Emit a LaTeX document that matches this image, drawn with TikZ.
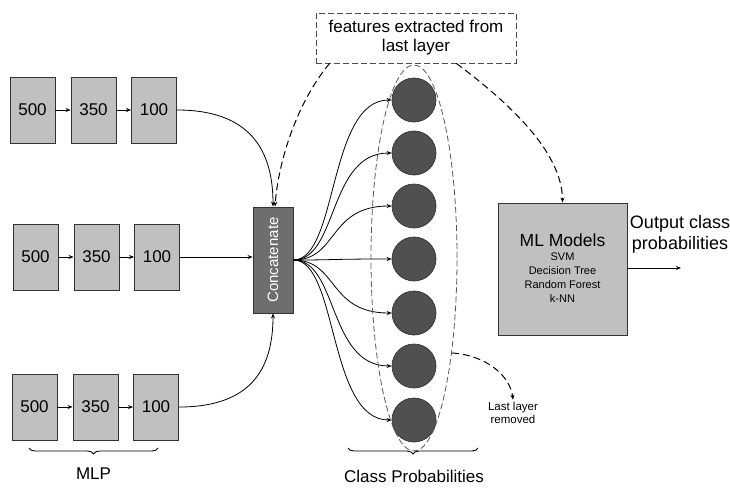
\documentclass[tikz,border=0pt]{standalone}
\usepackage{fontspec}
\setmainfont{Liberation Sans}
\usetikzlibrary{arrows.meta,decorations.pathreplacing,positioning,shapes.geometric}
\definecolor{boxgray}{HTML}{C0C0C0}
\definecolor{catgray}{HTML}{6E6E6E}
\definecolor{circgray}{HTML}{505050}
\begin{document}
\begin{tikzpicture}[x=1pt,y=-1pt,
  layer/.style={draw=black!80,line width=0.9pt,fill=boxgray,minimum width=45pt,minimum height=66pt,inner sep=0pt,font=\fontsize{17}{17}\selectfont},
  neuron/.style={circle,draw=black!80,line width=0.7pt,fill=circgray,minimum size=44pt,inner sep=0pt},
  conn/.style={line width=0.8pt,-{Stealth[length=5pt,width=4pt]}},
  dconn/.style={line width=1pt,dash pattern=on 7pt off 4pt,-{Stealth[length=5pt,width=4pt]}},
  brc/.style={decorate,decoration={brace,mirror,amplitude=6pt},line width=0.9pt}]
\useasboundingbox (0,0) rectangle (730,487);
% MLP rows
\foreach \r/\y/\dx in {1/110/0,2/257/3,3/407/2}{
  \node[layer] (a\r) at (32.5+\dx,\y) {500};
  \node[layer] (b\r) at (93.5+\dx,\y) {350};
  \node[layer] (c\r) at (154+\dx,\y) {100};
  \draw[conn] (a\r) -- (b\r);
  \draw[conn] (b\r) -- (c\r);
}
% concatenate
\node[draw=black!80,line width=0.9pt,fill=catgray,minimum width=40pt,minimum height=106pt,inner sep=0pt] (cat) at (273,260) {};
\node[rotate=90,text=white,font=\fontsize{15}{15}\selectfont] (cattext) at (cat.center) {Concatenate};
\draw[conn] (c1.east) .. controls (250,110) and (273,150) .. (cat.north);
\draw[conn] (c2.east) -- (cat.west |- c2.east);
\draw[conn] (c3.east) .. controls (250,407) and (273,370) .. (cat.south);
% neurons
\foreach \i/\y in {1/100,2/153,3/206,4/259,5/313,6/366,7/420}{
  \node[neuron] (n\i) at (414,\y) {};
  \draw[conn] (cat.east) .. controls (338,260) and (328,\y) .. (n\i.west);
}
% ellipse
\node[draw=black!65,dash pattern=on 6pt off 3pt,line width=0.8pt,ellipse,minimum width=86pt,minimum height=386pt,inner sep=0pt] (ell) at (414,258) {};
% features box
\node[draw=black!70,line width=0.9pt,dash pattern=on 6pt off 3pt,minimum width=200pt,minimum height=50pt,align=center,font=\fontsize{17}{19}\selectfont] (feat) at (416,38) {features extracted from\\last layer};
% ML box
\node[draw=black!80,line width=0.9pt,fill=boxgray,minimum width=129pt,minimum height=132pt,inner sep=0pt] (ml) at (562.5,269) {};
\node[align=center,font=\fontsize{11}{14}\selectfont] (mltext) at (562.5,268) {{\fontsize{17.5}{20}\selectfont ML Models}\\SVM\\Decision Tree\\Random Forest\\k-NN};
\coordinate (out) at (681,268);
\draw[conn] (ml.east |- out) -- (out);
\node[align=center,font=\fontsize{18}{21}\selectfont] (outtext) at (680,234) {Output class\\probabilities};
% dashed connectors
\draw[dconn] ([xshift=14pt]feat.south west) .. controls (295,105) and (278,165) .. ([xshift=2pt]cat.north);
\draw[dconn] ([xshift=-60pt]feat.south east) .. controls (505,100) and (562,150) .. (ml.north);
\coordinate (rm) at (452,353);
\node[align=center,font=\fontsize{11.5}{13}\selectfont] (rmtext) at (513,413) {Last layer\\removed};
\draw[dconn] (rm) .. controls (485,355) and (510,375) .. ([yshift=-1pt]rmtext.north);
% braces
\coordinate (m1) at (29,448); \coordinate (m2) at (158,448);
\draw[brc] (m1) -- (m2);
\node[font=\fontsize{17}{17}\selectfont] (mlp) at (93.5,474) {MLP};
\coordinate (p1) at (348,448); \coordinate (p2) at (478,448);
\draw[brc] (p1) -- (p2);
\node[font=\fontsize{17}{17}\selectfont] (cp) at (414,476) {Class Probabilities};
\end{tikzpicture}
\end{document}
